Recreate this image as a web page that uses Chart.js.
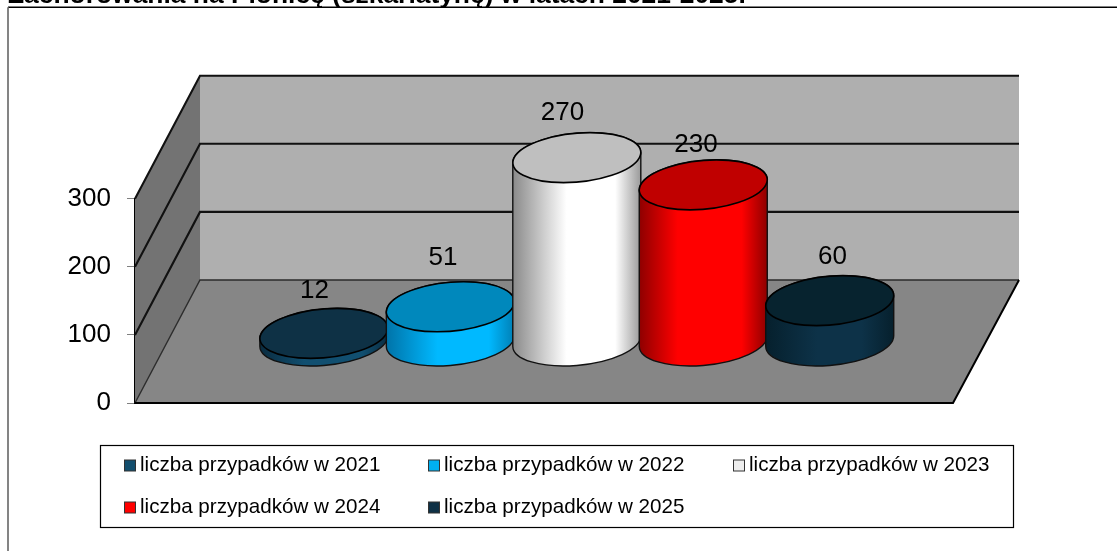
<!DOCTYPE html>
<html lang="pl">
<head>
<meta charset="utf-8">
<style>
html,body{margin:0;padding:0;background:#fff;overflow:hidden}
canvas{display:block}
</style>
<script src="https://cdn.jsdelivr.net/npm/chart.js@4/dist/chart.umd.min.js"></script>
</head>
<body>
<canvas id="c" width="1117" height="551"></canvas>
<script>
const categories = ['Płonica'];
const seriesLabels = ['liczba przypadków w 2021','liczba przypadków w 2022','liczba przypadków w 2023','liczba przypadków w 2024','liczba przypadków w 2025'];
const seriesValues = [12, 51, 270, 230, 60];
const yTicks = [0, 100, 200, 300];
const titleText = 'Zachorowania na Płonicę (szkarlatynę) w latach 2021-2025.';

const swatchColors = ['#134F6E','#00B0F0','#EDEDED','#FF0000','#0E3045'];
const topColors    = ['#0E3145','#0088BC','#BFBFBF','#C00000','#07232F'];
const sideStops    = [
  ['#0A2C40','#114F70','#114F70','#0A2C40'],
  ['#0073A8','#00B9FF','#00B9FF','#007FB5'],
  ['#8A8A8A','#FFFFFF','#FFFFFF','#9A9A9A'],
  ['#8E0000','#FF0000','#FF0000','#8E0000'],
  ['#06202D','#0D3248','#0D3248','#06202D']
];
const sideStopAt   = [[0.35,0.8],[0.4,0.8],[0.42,0.8],[0.3,0.8],[0.4,0.75]];
const labelNudges = [[-9,-42],[-7,-49],[-14,-45],[-7,-40],[3,-44]];

const DEPTH_X = 65, DEPTH_Y = 123;      // 3D box depth offset
const DISC_X = 13.2, DISC_Y = 25;       // shear of a cylinder cap
const FONT = '"Liberation Sans", Arial, sans-serif';

function capPath(ctx, cx, cy, rx) {
  ctx.save();
  ctx.transform(rx, 0, DISC_X, -DISC_Y, cx, cy);
  ctx.beginPath();
  ctx.arc(0, 0, 1, 0, Math.PI * 2);
  ctx.restore();
}

function drawCylinder(ctx, bar, i) {
  const rx = bar.width / 2 - 0.6;
  const cx = bar.x + DEPTH_X / 2 + 0.3;
  const baseY = bar.base - DEPTH_Y / 2;
  const topY = bar.y - DEPTH_Y / 2;
  const t0 = Math.atan2(DISC_X, rx);
  const ext = Math.hypot(rx, DISC_X);
  const g = ctx.createLinearGradient(cx - ext, 0, cx + ext, 0);
  const st = sideStops[i], at = sideStopAt[i];
  g.addColorStop(0, st[0]); g.addColorStop(at[0], st[1]); g.addColorStop(at[1], st[2]); g.addColorStop(1, st[3]);

  ctx.save();
  ctx.beginPath();
  ctx.save();
  ctx.transform(rx, 0, DISC_X, -DISC_Y, cx, topY);
  ctx.arc(0, 0, 1, t0 + Math.PI, t0, true);
  ctx.restore();
  ctx.save();
  ctx.transform(rx, 0, DISC_X, -DISC_Y, cx, baseY);
  ctx.arc(0, 0, 1, t0, t0 - Math.PI, true);
  ctx.restore();
  ctx.closePath();
  ctx.fillStyle = g;
  ctx.fill();
  ctx.strokeStyle = '#111';
  ctx.lineWidth = 1.4;
  ctx.stroke();
  capPath(ctx, cx, topY, rx);
  ctx.fillStyle = topColors[i];
  ctx.fill();
  ctx.strokeStyle = '#000';
  ctx.lineWidth = 1.6;
  ctx.stroke();
  ctx.restore();
}

const boxPlugin = {
  id: 'box3d',
  beforeDatasetsDraw(chart) {
    const ctx = chart.ctx, y = chart.scales.y, a = chart.chartArea;
    const l = a.left, r = a.right, b = y.getPixelForValue(0), t = y.getPixelForValue(300);
    const bl = l + DEPTH_X, br = r + DEPTH_X + 1, off = DEPTH_Y;
    ctx.save();
    ctx.fillStyle = '#AFAFAF';
    ctx.fillRect(bl, t - off, br - bl, b - t);
    ctx.fillStyle = '#737373';
    ctx.beginPath(); ctx.moveTo(l, b); ctx.lineTo(bl, b - off); ctx.lineTo(bl, t - off); ctx.lineTo(l, t); ctx.closePath(); ctx.fill();
    ctx.fillStyle = '#868686';
    ctx.beginPath(); ctx.moveTo(l, b); ctx.lineTo(r, b); ctx.lineTo(br, b - off); ctx.lineTo(bl, b - off); ctx.closePath(); ctx.fill();
    yTicks.forEach(v => {
      const py = y.getPixelForValue(v);
      ctx.beginPath(); ctx.moveTo(l, py); ctx.lineTo(bl, py - off); ctx.lineTo(br, py - off);
      ctx.strokeStyle = v === 0 ? '#2b2b2b' : '#111';
      ctx.lineWidth = v === 0 ? 1.4 : 2.1;
      ctx.stroke();
    });
    ctx.beginPath(); ctx.moveTo(l, b); ctx.lineTo(r, b); ctx.lineTo(br, b - off);
    ctx.strokeStyle = '#000'; ctx.lineWidth = 2; ctx.stroke();
    ctx.restore();

    ctx.save();
    chart.data.datasets.forEach((d, i) => {
      drawCylinder(ctx, chart.getDatasetMeta(i).data[0], i);
    });
    ctx.restore();
    return false;
  },
  afterDraw(chart) {
    const ctx = chart.ctx;
    ctx.save();
    ctx.strokeStyle = '#000'; ctx.lineWidth = 1.6;
    ctx.beginPath(); ctx.moveTo(8, 7.3); ctx.lineTo(1117, 7.3); ctx.stroke();
    ctx.strokeStyle = '#777'; ctx.lineWidth = 1.8;
    ctx.beginPath(); ctx.moveTo(8, 7.3); ctx.lineTo(8, 551); ctx.stroke();
    ctx.fillStyle = '#000';
    ctx.textAlign = 'left'; ctx.textBaseline = 'alphabetic';
    ctx.font = 'bold 26.4px ' + FONT;
    ctx.fillText(titleText, 8, 3);

    ctx.font = '26px ' + FONT;
    ctx.textAlign = 'center'; ctx.textBaseline = 'middle';
    chart.data.datasets.forEach((d, i) => {
      const bar = chart.getDatasetMeta(i).data[0];
      ctx.fillText(String(d.data[0]), bar.x + DEPTH_X / 2 + labelNudges[i][0], bar.y - DEPTH_Y / 2 + labelNudges[i][1]);
    });

    ctx.strokeStyle = '#000'; ctx.lineWidth = 1.2;
    ctx.strokeRect(100.5, 445.5, 913, 82);
    const cols = [124, 428, 733], rows = [465.5, 507.5];
    ctx.font = '20.6px ' + FONT;
    ctx.textAlign = 'left';
    seriesLabels.forEach((lab, i) => {
      const x = cols[i % 3], yy = rows[Math.floor(i / 3)];
      ctx.fillStyle = swatchColors[i];
      ctx.fillRect(x + 0.5, yy - 5.5, 11, 11);
      ctx.strokeStyle = '#333'; ctx.lineWidth = 1;
      ctx.strokeRect(x + 0.5, yy - 5.5, 11, 11);
      ctx.fillStyle = '#000';
      ctx.fillText(lab, x + 16, yy);
    });
    ctx.restore();
  }
};

new Chart(document.getElementById('c'), {
  type: 'bar',
  data: {
    labels: categories,
    datasets: seriesLabels.map((label, i) => ({
      label, data: [seriesValues[i]], backgroundColor: swatchColors[i]
    }))
  },
  options: {
    responsive: false,
    animation: false,
    events: [],
    categoryPercentage: 0.773,
    barPercentage: 1,
    layout: { padding: { left: 0, right: 164, top: 198.7, bottom: 148 } },
    scales: {
      x: { display: false },
      y: {
        min: 0, max: 300,
        afterFit(s) { s.width = 135; },
        ticks: {
          stepSize: 100, padding: 16, color: '#000',
          font: { family: FONT, size: 26 }
        },
        grid: { drawOnChartArea: false, drawTicks: true, tickLength: 8, color: '#808080' },
        border: { display: true, color: '#000', width: 2 }
      }
    },
    plugins: { legend: { display: false }, title: { display: false }, tooltip: { enabled: false } }
  },
  plugins: [boxPlugin]
});
</script>
</body>
</html>
